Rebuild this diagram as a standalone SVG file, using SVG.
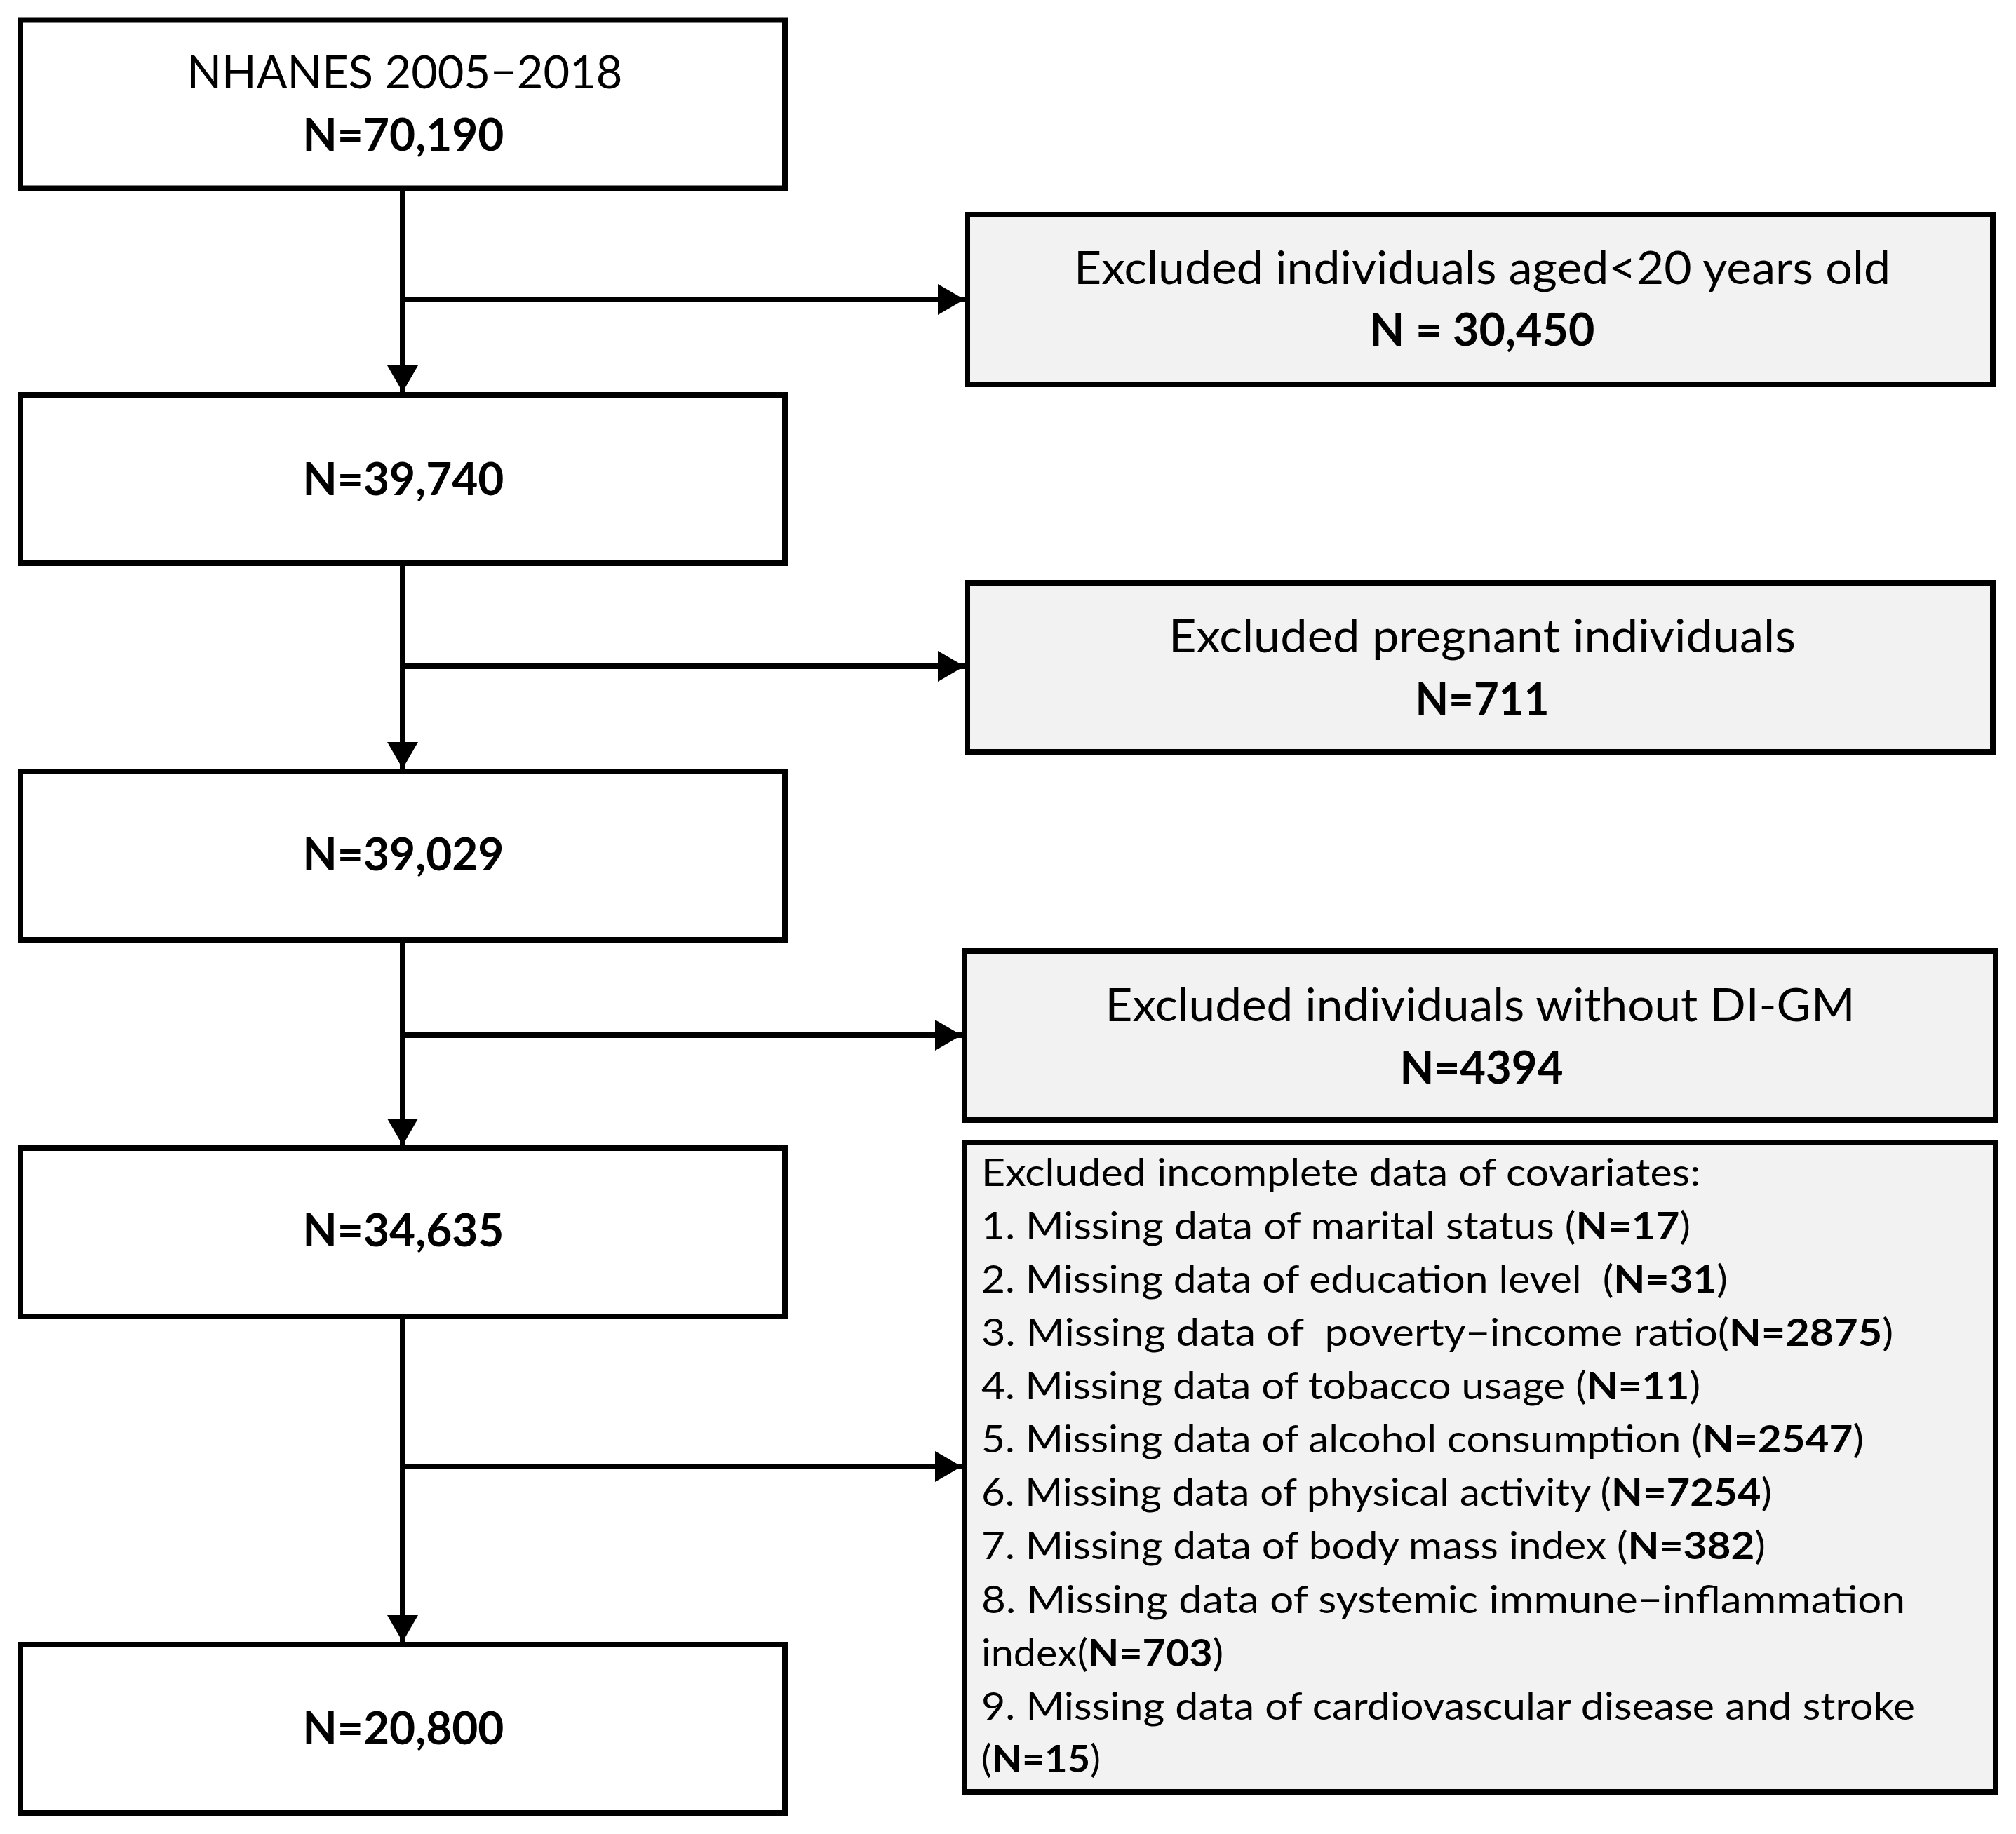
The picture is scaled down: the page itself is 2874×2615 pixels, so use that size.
<svg xmlns="http://www.w3.org/2000/svg" width="2874" height="2615" viewBox="0 0 2874 2615">
<style>
.box{fill:#ffffff;stroke:#000;stroke-width:8}
.ex{fill:#f2f2f2;stroke:#000;stroke-width:8}
.t{font-family:Lato,"Open Sans","Liberation Sans",sans-serif;font-size:65px;fill:#000}
.s{font-family:Lato,"Open Sans","Liberation Sans",sans-serif;font-size:54px;fill:#000;white-space:pre}
.b{font-weight:700}
.c{text-anchor:middle}
.ln{stroke:#000;stroke-width:8;fill:none}
</style>
<defs>
<marker id="ah" markerUnits="userSpaceOnUse" markerWidth="40" markerHeight="44" refX="38" refY="22" orient="auto" viewBox="0 0 40 44">
<path d="M0,0 L38,22 L0,44 z" fill="#000"/>
</marker>
</defs>
<rect width="2874" height="2615" fill="#fff"/>
<g id="connectors">
<line class="ln" x1="574" y1="272" x2="574" y2="559" marker-end="url(#ah)"/>
<line class="ln" x1="574" y1="427" x2="1375" y2="427" marker-end="url(#ah)"/>
<line class="ln" x1="574" y1="804" x2="574" y2="1096" marker-end="url(#ah)"/>
<line class="ln" x1="574" y1="950" x2="1375" y2="950" marker-end="url(#ah)"/>
<line class="ln" x1="574" y1="1340" x2="574" y2="1633" marker-end="url(#ah)"/>
<line class="ln" x1="574" y1="1476" x2="1371" y2="1476" marker-end="url(#ah)"/>
<line class="ln" x1="574" y1="1877" x2="574" y2="2341" marker-end="url(#ah)"/>
<line class="ln" x1="574" y1="2091" x2="1371" y2="2091" marker-end="url(#ah)"/>
</g>
<g id="n1">
<rect class="box" x="29" y="28.5" width="1090" height="240"/>
<text class="t c" x="577" y="126" textLength="621" lengthAdjust="spacingAndGlyphs">NHANES 2005−2018</text>
<text class="t c b" x="575" y="215" textLength="287" lengthAdjust="spacingAndGlyphs">N=70,190</text>
</g>
<g id="n2">
<rect class="box" x="29" y="563" width="1090" height="240"/>
<text class="t c b" x="575" y="706" textLength="287" lengthAdjust="spacingAndGlyphs">N=39,740</text>
</g>
<g id="n3">
<rect class="box" x="29" y="1100" width="1090" height="240"/>
<text class="t c b" x="575" y="1241" textLength="287" lengthAdjust="spacingAndGlyphs">N=39,029</text>
</g>
<g id="n4">
<rect class="box" x="29" y="1637" width="1090" height="240"/>
<text class="t c b" x="575" y="1777" textLength="287" lengthAdjust="spacingAndGlyphs">N=34,635</text>
</g>
<g id="n5">
<rect class="box" x="29" y="2345" width="1090" height="240"/>
<text class="t c b" x="575" y="2487" textLength="287" lengthAdjust="spacingAndGlyphs">N=20,800</text>
</g>
<g id="e1">
<rect class="ex" x="1379" y="306" width="1462" height="242"/>
<text class="t c" x="2113" y="405" textLength="1164" lengthAdjust="spacingAndGlyphs">Excluded individuals aged&lt;20 years old</text>
<text class="t c b" x="2113" y="493" textLength="321" lengthAdjust="spacingAndGlyphs" style="white-space:pre">N = 30,450</text>
</g>
<g id="e2">
<rect class="ex" x="1379" y="831" width="1462" height="241"/>
<text class="t c" x="2113" y="930" textLength="894" lengthAdjust="spacingAndGlyphs">Excluded pregnant individuals</text>
<text class="t c b" x="2113" y="1020" textLength="191" lengthAdjust="spacingAndGlyphs">N=711</text>
</g>
<g id="e3">
<rect class="ex" x="1375" y="1356" width="1470" height="241"/>
<text class="t c" x="2110" y="1456" textLength="1069" lengthAdjust="spacingAndGlyphs">Excluded individuals without DI-GM</text>
<text class="t c b" x="2112" y="1545" textLength="233" lengthAdjust="spacingAndGlyphs">N=4394</text>
</g>
<g id="e4">
<rect class="ex" x="1375" y="1629" width="1470" height="926"/>
<text class="s" x="1399" y="1691" textLength="1025" lengthAdjust="spacingAndGlyphs">Excluded incomplete data of covariates:</text>
<text class="s" x="1399" y="1767" textLength="1011" lengthAdjust="spacingAndGlyphs">1. Missing data of marital status (<tspan class="b">N=17</tspan>)</text>
<text class="s" x="1399" y="1843" textLength="1064" lengthAdjust="spacingAndGlyphs">2. Missing data of education level  (<tspan class="b">N=31</tspan>)</text>
<text class="s" x="1399" y="1919" textLength="1300" lengthAdjust="spacingAndGlyphs">3. Missing data of  poverty−income ratio(<tspan class="b">N=2875</tspan>)</text>
<text class="s" x="1399" y="1995" textLength="1025" lengthAdjust="spacingAndGlyphs">4. Missing data of tobacco usage (<tspan class="b">N=11</tspan>)</text>
<text class="s" x="1399" y="2071" textLength="1258" lengthAdjust="spacingAndGlyphs">5. Missing data of alcohol consumption (<tspan class="b">N=2547</tspan>)</text>
<text class="s" x="1399" y="2147" textLength="1127" lengthAdjust="spacingAndGlyphs">6. Missing data of physical activity (<tspan class="b">N=7254</tspan>)</text>
<text class="s" x="1399" y="2223" textLength="1118" lengthAdjust="spacingAndGlyphs">7. Missing data of body mass index (<tspan class="b">N=382</tspan>)</text>
<text class="s" x="1399" y="2300" textLength="1317" lengthAdjust="spacingAndGlyphs">8. Missing data of systemic immune−inflammation</text>
<text class="s" x="1399" y="2376" textLength="345" lengthAdjust="spacingAndGlyphs">index(<tspan class="b">N=703</tspan>)</text>
<text class="s" x="1399" y="2452" textLength="1331" lengthAdjust="spacingAndGlyphs">9. Missing data of cardiovascular disease and stroke</text>
<text class="s" x="1399" y="2527" textLength="170" lengthAdjust="spacingAndGlyphs">(<tspan class="b">N=15</tspan>)</text>
</g>
</svg>
